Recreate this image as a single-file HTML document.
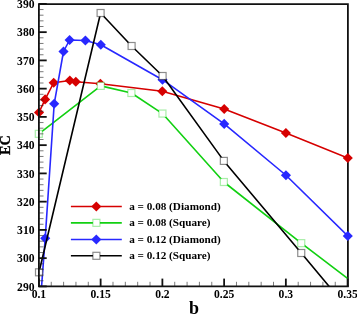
<!DOCTYPE html><html><head><meta charset="utf-8"><style>html,body{margin:0;padding:0;background:#fff;overflow:hidden}svg{display:block;will-change:transform}text{font-family:"Liberation Serif",serif;font-weight:bold}</style></head><body>
<svg width="357" height="314" viewBox="0 0 357 314">
<rect width="357" height="314" fill="#fff"/>
<defs><clipPath id="c"><rect x="38.9" y="3.9" width="308.70000000000005" height="282.5"/></clipPath></defs>
<path d="M38.9 4.1H347.90000000000003V286.4" fill="none" stroke="#111" stroke-width="1.8"/>
<g clip-path="url(#c)"><polyline points="39.00,112.50 45.10,99.40 53.70,82.75 69.80,80.50 75.80,81.70 100.40,83.70 162.30,91.30 224.20,109.00 285.90,132.95 347.80,158.00" fill="none" stroke="#d60000" stroke-width="1.6" stroke-linejoin="round"/></g>
<path d="M33.95 112.50L39.00 107.45L44.05 112.50L39.00 117.55Z" fill="#d60000"/>
<path d="M40.05 99.40L45.10 94.35L50.15 99.40L45.10 104.45Z" fill="#d60000"/>
<path d="M48.65 82.75L53.70 77.70L58.75 82.75L53.70 87.80Z" fill="#d60000"/>
<path d="M64.75 80.50L69.80 75.45L74.85 80.50L69.80 85.55Z" fill="#d60000"/>
<path d="M70.75 81.70L75.80 76.65L80.85 81.70L75.80 86.75Z" fill="#d60000"/>
<path d="M95.35 83.70L100.40 78.65L105.45 83.70L100.40 88.75Z" fill="#d60000"/>
<path d="M157.25 91.30L162.30 86.25L167.35 91.30L162.30 96.35Z" fill="#d60000"/>
<path d="M219.15 109.00L224.20 103.95L229.25 109.00L224.20 114.05Z" fill="#d60000"/>
<path d="M280.85 132.95L285.90 127.90L290.95 132.95L285.90 138.00Z" fill="#d60000"/>
<path d="M342.75 158.00L347.80 152.95L352.85 158.00L347.80 163.05Z" fill="#d60000"/>
<g clip-path="url(#c)"><polyline points="38.80,133.85 100.75,85.90 131.40,93.00 162.45,113.55 223.85,182.00 301.25,243.15 367.50,293.64" fill="none" stroke="#12d012" stroke-width="1.6" stroke-linejoin="round"/></g>
<rect x="35.30" y="130.35" width="7.00" height="7.00" fill="#fff" stroke="#12d012" stroke-opacity="0.36" stroke-width="1.2"/>
<rect x="97.25" y="82.40" width="7.00" height="7.00" fill="#fff" stroke="#12d012" stroke-opacity="0.36" stroke-width="1.2"/>
<rect x="127.90" y="89.50" width="7.00" height="7.00" fill="#fff" stroke="#12d012" stroke-opacity="0.36" stroke-width="1.2"/>
<rect x="158.95" y="110.05" width="7.00" height="7.00" fill="#fff" stroke="#12d012" stroke-opacity="0.36" stroke-width="1.2"/>
<rect x="220.35" y="178.50" width="7.00" height="7.00" fill="#fff" stroke="#12d012" stroke-opacity="0.36" stroke-width="1.2"/>
<rect x="297.75" y="239.65" width="7.00" height="7.00" fill="#fff" stroke="#12d012" stroke-opacity="0.36" stroke-width="1.2"/>
<g clip-path="url(#c)"><polyline points="38.90,321.70 45.20,238.35 54.20,103.80 63.50,51.50 69.60,40.00 85.40,40.50 100.80,44.75 162.50,79.70 224.20,123.90 285.95,175.25 347.80,236.05" fill="none" stroke="#2828ff" stroke-width="1.6" stroke-linejoin="round"/></g>
<path d="M40.15 238.35L45.20 233.30L50.25 238.35L45.20 243.40Z" fill="#2828ff"/>
<path d="M49.15 103.80L54.20 98.75L59.25 103.80L54.20 108.85Z" fill="#2828ff"/>
<path d="M58.45 51.50L63.50 46.45L68.55 51.50L63.50 56.55Z" fill="#2828ff"/>
<path d="M64.55 40.00L69.60 34.95L74.65 40.00L69.60 45.05Z" fill="#2828ff"/>
<path d="M80.35 40.50L85.40 35.45L90.45 40.50L85.40 45.55Z" fill="#2828ff"/>
<path d="M95.75 44.75L100.80 39.70L105.85 44.75L100.80 49.80Z" fill="#2828ff"/>
<path d="M157.45 79.70L162.50 74.65L167.55 79.70L162.50 84.75Z" fill="#2828ff"/>
<path d="M219.15 123.90L224.20 118.85L229.25 123.90L224.20 128.95Z" fill="#2828ff"/>
<path d="M280.90 175.25L285.95 170.20L291.00 175.25L285.95 180.30Z" fill="#2828ff"/>
<path d="M342.75 236.05L347.80 231.00L352.85 236.05L347.80 241.10Z" fill="#2828ff"/>
<g clip-path="url(#c)"><polyline points="39.00,272.30 100.60,13.00 131.60,46.00 162.60,76.00 223.85,160.90 301.25,253.00 347.50,308.41" fill="none" stroke="#000000" stroke-width="1.6" stroke-linejoin="round"/></g>
<rect x="35.50" y="268.80" width="7.00" height="7.00" fill="#fff" stroke="#000000" stroke-opacity="0.45" stroke-width="1.2"/>
<rect x="97.10" y="9.50" width="7.00" height="7.00" fill="#fff" stroke="#000000" stroke-opacity="0.45" stroke-width="1.2"/>
<rect x="128.10" y="42.50" width="7.00" height="7.00" fill="#fff" stroke="#000000" stroke-opacity="0.45" stroke-width="1.2"/>
<rect x="159.10" y="72.50" width="7.00" height="7.00" fill="#fff" stroke="#000000" stroke-opacity="0.45" stroke-width="1.2"/>
<rect x="220.35" y="157.40" width="7.00" height="7.00" fill="#fff" stroke="#000000" stroke-opacity="0.45" stroke-width="1.2"/>
<rect x="297.75" y="249.50" width="7.00" height="7.00" fill="#fff" stroke="#000000" stroke-opacity="0.45" stroke-width="1.2"/>
<path d="M38.9 3.2V286.4H348.8" fill="none" stroke="#111" stroke-width="1.8"/>
<path d="M38.9 286.40H46.699999999999996" stroke="#111" stroke-width="1.8"/>
<path d="M38.9 280.75H43.5" stroke="#222" stroke-width="0.6"/>
<path d="M38.9 275.10H43.5" stroke="#222" stroke-width="0.6"/>
<path d="M38.9 269.45H43.5" stroke="#222" stroke-width="0.6"/>
<path d="M38.9 263.80H43.5" stroke="#222" stroke-width="0.6"/>
<path d="M38.9 258.15H46.699999999999996" stroke="#111" stroke-width="1.8"/>
<path d="M38.9 252.50H43.5" stroke="#222" stroke-width="0.6"/>
<path d="M38.9 246.85H43.5" stroke="#222" stroke-width="0.6"/>
<path d="M38.9 241.20H43.5" stroke="#222" stroke-width="0.6"/>
<path d="M38.9 235.55H43.5" stroke="#222" stroke-width="0.6"/>
<path d="M38.9 229.90H46.699999999999996" stroke="#111" stroke-width="1.8"/>
<path d="M38.9 224.25H43.5" stroke="#222" stroke-width="0.6"/>
<path d="M38.9 218.60H43.5" stroke="#222" stroke-width="0.6"/>
<path d="M38.9 212.95H43.5" stroke="#222" stroke-width="0.6"/>
<path d="M38.9 207.30H43.5" stroke="#222" stroke-width="0.6"/>
<path d="M38.9 201.65H46.699999999999996" stroke="#111" stroke-width="1.8"/>
<path d="M38.9 196.00H43.5" stroke="#222" stroke-width="0.6"/>
<path d="M38.9 190.35H43.5" stroke="#222" stroke-width="0.6"/>
<path d="M38.9 184.70H43.5" stroke="#222" stroke-width="0.6"/>
<path d="M38.9 179.05H43.5" stroke="#222" stroke-width="0.6"/>
<path d="M38.9 173.40H46.699999999999996" stroke="#111" stroke-width="1.8"/>
<path d="M38.9 167.75H43.5" stroke="#222" stroke-width="0.6"/>
<path d="M38.9 162.10H43.5" stroke="#222" stroke-width="0.6"/>
<path d="M38.9 156.45H43.5" stroke="#222" stroke-width="0.6"/>
<path d="M38.9 150.80H43.5" stroke="#222" stroke-width="0.6"/>
<path d="M38.9 145.15H46.699999999999996" stroke="#111" stroke-width="1.8"/>
<path d="M38.9 139.50H43.5" stroke="#222" stroke-width="0.6"/>
<path d="M38.9 133.85H43.5" stroke="#222" stroke-width="0.6"/>
<path d="M38.9 128.20H43.5" stroke="#222" stroke-width="0.6"/>
<path d="M38.9 122.55H43.5" stroke="#222" stroke-width="0.6"/>
<path d="M38.9 116.90H46.699999999999996" stroke="#111" stroke-width="1.8"/>
<path d="M38.9 111.25H43.5" stroke="#222" stroke-width="0.6"/>
<path d="M38.9 105.60H43.5" stroke="#222" stroke-width="0.6"/>
<path d="M38.9 99.95H43.5" stroke="#222" stroke-width="0.6"/>
<path d="M38.9 94.30H43.5" stroke="#222" stroke-width="0.6"/>
<path d="M38.9 88.65H46.699999999999996" stroke="#111" stroke-width="1.8"/>
<path d="M38.9 83.00H43.5" stroke="#222" stroke-width="0.6"/>
<path d="M38.9 77.35H43.5" stroke="#222" stroke-width="0.6"/>
<path d="M38.9 71.70H43.5" stroke="#222" stroke-width="0.6"/>
<path d="M38.9 66.05H43.5" stroke="#222" stroke-width="0.6"/>
<path d="M38.9 60.40H46.699999999999996" stroke="#111" stroke-width="1.8"/>
<path d="M38.9 54.75H43.5" stroke="#222" stroke-width="0.6"/>
<path d="M38.9 49.10H43.5" stroke="#222" stroke-width="0.6"/>
<path d="M38.9 43.45H43.5" stroke="#222" stroke-width="0.6"/>
<path d="M38.9 37.80H43.5" stroke="#222" stroke-width="0.6"/>
<path d="M38.9 32.15H46.699999999999996" stroke="#111" stroke-width="1.8"/>
<path d="M38.9 26.50H43.5" stroke="#222" stroke-width="0.6"/>
<path d="M38.9 20.85H43.5" stroke="#222" stroke-width="0.6"/>
<path d="M38.9 15.20H43.5" stroke="#222" stroke-width="0.6"/>
<path d="M38.9 9.55H43.5" stroke="#222" stroke-width="0.6"/>
<path d="M38.9 3.90H46.699999999999996" stroke="#111" stroke-width="1.8"/>
<path d="M38.90 286.4V278.59999999999997" stroke="#111" stroke-width="1.8"/>
<path d="M51.25 286.4V281.79999999999995" stroke="#222" stroke-width="0.6"/>
<path d="M63.60 286.4V281.79999999999995" stroke="#222" stroke-width="0.6"/>
<path d="M75.94 286.4V281.79999999999995" stroke="#222" stroke-width="0.6"/>
<path d="M88.29 286.4V281.79999999999995" stroke="#222" stroke-width="0.6"/>
<path d="M100.64 286.4V278.59999999999997" stroke="#111" stroke-width="1.8"/>
<path d="M112.99 286.4V281.79999999999995" stroke="#222" stroke-width="0.6"/>
<path d="M125.34 286.4V281.79999999999995" stroke="#222" stroke-width="0.6"/>
<path d="M137.68 286.4V281.79999999999995" stroke="#222" stroke-width="0.6"/>
<path d="M150.03 286.4V281.79999999999995" stroke="#222" stroke-width="0.6"/>
<path d="M162.38 286.4V278.59999999999997" stroke="#111" stroke-width="1.8"/>
<path d="M174.73 286.4V281.79999999999995" stroke="#222" stroke-width="0.6"/>
<path d="M187.08 286.4V281.79999999999995" stroke="#222" stroke-width="0.6"/>
<path d="M199.42 286.4V281.79999999999995" stroke="#222" stroke-width="0.6"/>
<path d="M211.77 286.4V281.79999999999995" stroke="#222" stroke-width="0.6"/>
<path d="M224.12 286.4V278.59999999999997" stroke="#111" stroke-width="1.8"/>
<path d="M236.47 286.4V281.79999999999995" stroke="#222" stroke-width="0.6"/>
<path d="M248.82 286.4V281.79999999999995" stroke="#222" stroke-width="0.6"/>
<path d="M261.16 286.4V281.79999999999995" stroke="#222" stroke-width="0.6"/>
<path d="M273.51 286.4V281.79999999999995" stroke="#222" stroke-width="0.6"/>
<path d="M285.86 286.4V278.59999999999997" stroke="#111" stroke-width="1.8"/>
<path d="M298.21 286.4V281.79999999999995" stroke="#222" stroke-width="0.6"/>
<path d="M310.56 286.4V281.79999999999995" stroke="#222" stroke-width="0.6"/>
<path d="M322.90 286.4V281.79999999999995" stroke="#222" stroke-width="0.6"/>
<path d="M335.25 286.4V281.79999999999995" stroke="#222" stroke-width="0.6"/>
<path d="M347.60 286.4V278.59999999999997" stroke="#111" stroke-width="1.8"/>
<text x="34.5" y="290.50" font-size="11.6" text-anchor="end">290</text>
<text x="34.5" y="262.25" font-size="11.6" text-anchor="end">300</text>
<text x="34.5" y="234.00" font-size="11.6" text-anchor="end">310</text>
<text x="34.5" y="205.75" font-size="11.6" text-anchor="end">320</text>
<text x="34.5" y="177.50" font-size="11.6" text-anchor="end">330</text>
<text x="34.5" y="149.25" font-size="11.6" text-anchor="end">340</text>
<text x="34.5" y="121.00" font-size="11.6" text-anchor="end">350</text>
<text x="34.5" y="92.75" font-size="11.6" text-anchor="end">360</text>
<text x="34.5" y="64.50" font-size="11.6" text-anchor="end">370</text>
<text x="34.5" y="36.25" font-size="11.6" text-anchor="end">380</text>
<text x="34.5" y="8.00" font-size="11.6" text-anchor="end">390</text>
<text x="38.90" y="298.1" font-size="11.6" text-anchor="middle">0.1</text>
<text x="100.64" y="298.1" font-size="11.6" text-anchor="middle">0.15</text>
<text x="162.38" y="298.1" font-size="11.6" text-anchor="middle">0.2</text>
<text x="224.12" y="298.1" font-size="11.6" text-anchor="middle">0.25</text>
<text x="285.86" y="298.1" font-size="11.6" text-anchor="middle">0.3</text>
<text x="347.60" y="298.1" font-size="11.6" text-anchor="middle">0.35</text>
<text x="10.3" y="145" font-size="14.3" text-anchor="middle" stroke="#000" stroke-width="0.3" transform="rotate(-90 10.3 145)">EC</text>
<text x="188.9" y="314" font-size="18">b</text>
<path d="M70.9 206.5H121.8" stroke="#d60000" stroke-width="1.6"/>
<path d="M91.25 206.50L96.30 201.45L101.35 206.50L96.30 211.55Z" fill="#d60000"/>
<text x="129.2" y="209.90" font-size="11.2">a = 0.08 (Diamond)</text>
<path d="M70.9 222.85H121.8" stroke="#12d012" stroke-width="1.6"/>
<rect x="92.90" y="219.35" width="7.00" height="7.00" fill="#fff" stroke="#12d012" stroke-opacity="0.36" stroke-width="1.2"/>
<text x="129.2" y="226.25" font-size="11.2">a = 0.08 (Square)</text>
<path d="M70.9 239.5H121.8" stroke="#2828ff" stroke-width="1.6"/>
<path d="M91.25 239.50L96.30 234.45L101.35 239.50L96.30 244.55Z" fill="#2828ff"/>
<text x="129.2" y="242.90" font-size="11.2">a = 0.12 (Diamond)</text>
<path d="M70.9 255.8H121.8" stroke="#000000" stroke-width="1.6"/>
<rect x="92.90" y="252.30" width="7.00" height="7.00" fill="#fff" stroke="#000000" stroke-opacity="0.45" stroke-width="1.2"/>
<text x="129.2" y="259.20" font-size="11.2">a = 0.12 (Square)</text>
</svg></body></html>
